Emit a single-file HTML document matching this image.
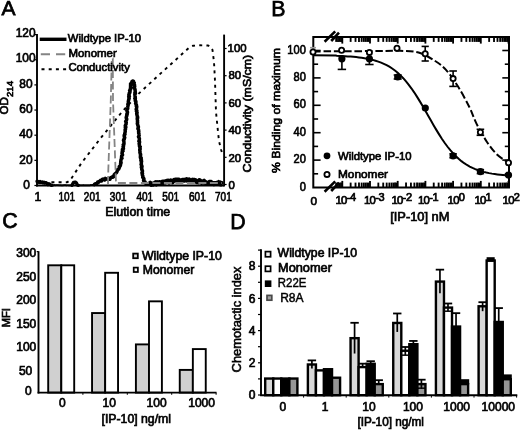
<!DOCTYPE html>
<html><head><meta charset="utf-8"><title>Figure</title>
<style>html,body{margin:0;padding:0;background:#fff;}svg{display:block;will-change:transform;}text{font-family:"Liberation Sans",sans-serif;fill:#000;}</style>
</head><body>
<svg width="520" height="431" viewBox="0 0 520 431">
<defs><filter id="soft" x="0" y="0" width="520" height="431" filterUnits="userSpaceOnUse"><feGaussianBlur stdDeviation="0.38"/></filter></defs>
<rect x="0" y="0" width="520" height="431" fill="#fff"/>
<g filter="url(#soft)">
<text x="1.5" y="15.2" font-size="21" text-anchor="start" stroke="#000" stroke-width="0.75" >A</text>
<text x="271.3" y="16" font-size="21.3" text-anchor="start" stroke="#000" stroke-width="0.75" >B</text>
<text x="2.3" y="227.9" font-size="21.3" text-anchor="start" stroke="#000" stroke-width="0.75" >C</text>
<text x="230.3" y="228.7" font-size="21.3" text-anchor="start" stroke="#000" stroke-width="0.75" >D</text>
<g id="panelA">
<polyline points="37.00,182.30 67.00,182.30 70.00,180.50 81.50,163.00 100.00,139.00 122.30,111.50 138.50,93.80 158.50,75.40 175.00,60.50 189.00,47.70 193.00,45.80 200.00,45.30 208.00,45.50 211.00,47.00 212.50,50.00 214.00,62.00 215.00,81.00 216.00,112.00 217.50,127.00 219.00,141.00 221.00,149.50 222.60,154.50" fill="none" stroke="#000" stroke-width="1.9" stroke-dasharray="3 4.2"/>
<polyline points="37.00,181.48 38.00,181.30 39.00,182.34 40.00,181.43 40.80,182.42 41.60,182.28 42.40,181.88 43.20,182.85 44.00,182.17 44.80,183.12 45.60,182.71 46.40,182.98 47.20,183.82 48.00,184.79 48.80,183.72 49.60,184.10 50.40,184.88 51.20,185.27 52.00,185.25" fill="none" stroke="#000" stroke-width="3.3" stroke-linejoin="round" stroke-linecap="round"/>
<polyline points="51.20,185.27 52.00,185.25 52.80,185.15 53.60,185.40 54.40,184.95 55.20,185.40 56.00,185.11 56.80,185.03 57.60,185.03 58.40,185.15 59.20,185.40 60.00,185.09 60.80,185.34 61.60,185.38 62.40,185.23 63.20,185.34 64.00,185.06 64.80,185.06 65.60,185.16 66.40,185.40 67.20,185.31 68.00,185.25 68.80,185.40 69.60,185.35 70.40,185.26 71.20,185.40 72.00,185.40 72.38,184.45" fill="none" stroke="#000" stroke-width="1.6" />
<polyline points="72.00,185.40 72.38,184.45 72.75,183.84 73.12,183.02 73.50,182.43 74.33,182.34 75.17,182.07 76.00,182.49 76.38,182.75 76.75,183.70 77.12,184.68 77.50,185.09 78.33,185.29" fill="none" stroke="#000" stroke-width="3.3" stroke-linejoin="round" stroke-linecap="round"/>
<polyline points="78.33,185.29 79.17,185.02 80.00,185.40 80.83,185.40 81.67,185.34 82.50,185.40 83.33,185.19 84.17,185.40 85.00,185.36 85.83,185.35 86.67,185.27 87.50,185.40 88.33,185.40 89.17,185.28 90.00,185.40 90.86,184.85 91.71,185.05 92.57,184.83 93.43,184.85" fill="none" stroke="#000" stroke-width="1.6" />
<polyline points="94.29,184.56 95.14,183.80 96.00,183.79 96.80,183.80 97.60,182.14 98.40,182.43 99.20,181.40 100.00,180.81 100.75,180.21 101.50,180.98 102.25,179.33 103.00,179.05 103.80,179.20 104.60,179.97 105.40,178.45 106.20,179.01 107.00,179.09 108.00,179.52 109.00,179.24 110.00,179.16 110.75,177.60 111.50,177.35 112.25,176.75 113.00,177.19 113.60,176.72 114.20,174.67 114.80,174.12 115.40,173.62 116.00,173.02 116.43,172.69 116.86,172.09 117.29,170.72 117.71,169.46 118.06,169.48 118.64,169.10 119.19,168.01 119.45,167.29 119.22,166.61 120.28,165.76 120.63,164.59 120.57,163.56 121.13,162.69 120.68,161.99 120.88,161.28 120.89,160.23 121.10,159.50 121.42,158.64 122.04,158.25 121.43,157.19 121.74,156.46 121.62,155.99 122.60,154.92 122.21,153.85 121.94,153.22 122.21,152.76 122.22,151.39 123.12,150.94 122.42,150.14 122.42,149.33 123.48,148.75 123.29,147.54 123.05,146.68 123.54,146.14 123.64,145.20 123.18,144.74 124.03,143.97 123.94,143.15 123.97,141.95 123.84,141.24 123.44,140.22 123.78,139.58 124.28,139.27 124.13,138.47 124.76,137.68 124.23,136.37 124.18,135.56 124.25,135.06 125.04,134.42 124.71,133.49 125.12,132.30 125.07,132.08 125.28,131.18 125.07,129.96 125.47,129.25 125.57,128.88 125.26,127.66 125.90,127.07 125.22,125.83 125.29,125.56 126.03,124.21 126.14,123.97 126.07,122.71 126.05,121.74 125.61,121.51 126.33,120.38 126.71,119.50 126.74,118.96 126.17,117.74 126.34,116.91 126.72,116.10 126.65,115.20 127.23,114.53 126.87,113.88 127.40,112.94 127.51,112.19 127.22,111.40 126.80,110.53 127.06,109.41 127.78,108.72 127.54,108.30 127.72,107.21 127.78,106.56 128.14,105.44 128.01,104.73 127.82,104.29 128.15,103.33 128.50,102.76 128.28,101.75 128.43,100.87 128.72,100.01 128.65,99.22 129.16,98.57 129.19,97.93 128.66,96.85 129.44,96.24 128.77,94.94 129.21,94.10 129.14,93.30 129.70,93.00 130.06,91.76 130.02,91.31 129.58,90.67 130.53,89.40 130.65,88.73 130.32,88.34 130.80,86.96 130.53,86.41 130.57,85.39 130.69,84.96 130.52,84.04 131.32,82.86 131.58,82.49 132.14,81.30 132.99,81.00 133.47,81.26 133.27,81.94 134.28,82.84 133.71,83.76 134.57,84.84 134.00,85.18 134.74,86.29 134.61,86.76 134.04,87.99 134.49,88.37 135.09,89.57 135.03,89.99 135.17,90.79 135.25,91.87 134.81,92.75 135.48,93.36 134.76,94.35 134.95,94.87 134.96,95.64 135.08,96.63 135.26,97.75 135.33,98.38 135.30,99.08 135.22,99.83 135.29,100.98 135.90,101.42 135.89,102.76 135.59,103.50 135.99,104.10 136.47,104.85 136.21,105.87 136.76,106.45 136.68,107.52 136.56,108.13 136.34,108.71 136.19,109.54 136.88,110.49 136.37,111.19 137.12,112.56 137.02,112.97 136.67,113.80 136.96,114.52 137.01,115.41 137.60,116.73 137.26,117.04 137.75,117.91 137.21,118.51 137.31,119.66 137.50,120.29 137.58,120.97 137.41,121.85 137.62,122.64 137.31,123.64 137.59,124.66 137.96,125.60 138.16,126.39 138.46,126.98 137.97,128.22 137.87,128.86 138.44,129.20 138.70,130.61 138.56,131.32 138.82,131.73 138.60,132.80 138.99,133.83 139.05,134.50 139.19,135.39 139.06,135.89 138.47,136.64 138.87,137.44 139.42,138.58 139.28,139.45 139.41,140.17 138.80,141.21 139.62,141.83 139.48,142.76 139.09,143.64 139.35,144.01 139.44,145.29 139.45,146.12 140.29,146.78 139.77,147.59 140.15,148.62 140.16,149.36 139.69,149.84 139.94,151.08 140.07,151.79 139.85,152.26 140.18,153.51 140.67,154.34 140.35,155.06 140.60,155.85 140.32,156.97 140.48,157.86 141.29,158.01 140.89,159.40 141.47,159.96 140.85,160.63 141.61,161.46 141.33,162.25 141.36,163.65 141.05,164.39 141.51,165.27 141.79,165.65 142.06,166.66 141.27,167.15 141.83,168.30 141.72,168.92 141.84,169.87 142.42,170.48 142.42,171.90 141.87,172.80 142.55,173.61 142.21,174.08 142.39,175.35 142.80,175.76 142.86,176.56 142.69,177.29 143.69,178.28 144.01,179.11 143.55,180.15 143.69,180.91 145.12,182.00 145.33,183.03 146.00,183.44 146.86,183.96 147.71,184.02 148.57,183.33 149.43,183.65 150.29,182.46 151.14,183.70 152.00,183.21 152.86,183.61 153.71,183.27 154.57,182.49 155.43,181.92 156.29,183.35 157.14,181.77 158.00,182.25 158.88,181.89 159.75,181.69 160.62,182.36 161.50,182.66 162.38,181.24 163.25,181.83 164.12,181.07 165.00,181.40 165.83,181.00 166.67,180.48 167.50,180.37 168.33,180.34 169.17,181.49 170.00,180.64 170.83,180.04 171.67,181.16 172.50,181.22 173.33,180.13 174.17,179.46 175.00,179.45 175.83,179.22 176.67,179.63 177.50,179.14 178.33,179.36 179.17,179.36 180.00,179.88 180.83,180.41 181.67,180.12 182.50,179.47 183.33,179.43 184.17,179.59 185.00,179.28 185.83,179.25 186.67,178.80 187.50,179.22 188.33,180.51 189.17,179.03 190.00,179.76 190.83,180.02 191.67,180.49 192.50,179.36 193.33,179.50 194.17,179.51 195.00,179.82 195.83,180.03 196.67,181.07 197.50,181.00 198.33,181.17 199.17,179.76 200.00,179.91 200.83,181.25 201.67,181.71 202.50,181.08 203.33,181.41 204.17,180.48 205.00,181.30 205.88,182.37 206.75,182.29 207.62,182.44 208.50,182.75 209.38,181.55 210.25,181.40 211.12,181.58 212.00,182.34 212.83,182.65 213.67,183.14 214.50,182.77 215.33,182.67 216.17,182.90 217.00,182.37 217.83,182.57 218.67,181.67 219.50,183.03 220.33,182.07 221.17,183.33 222.00,182.86" fill="none" stroke="#000" stroke-width="3.5" stroke-linejoin="round" stroke-linecap="round"/>
<polyline points="150.29,183.66 151.14,184.90 152.00,184.41 152.86,184.81 153.71,184.47 154.57,183.69 155.43,183.12 156.29,184.55 157.14,182.97 158.00,183.45 158.88,183.09 159.75,182.89 160.62,183.56 161.50,183.86 162.38,182.44 163.25,183.03 164.12,182.27 165.00,182.60 165.83,182.20 166.67,181.68 167.50,181.57 168.33,181.54 169.17,182.69 170.00,181.84 170.83,181.24 171.67,182.36 172.50,182.42 173.33,181.33 174.17,180.66 175.00,180.65 175.83,180.42 176.67,180.83 177.50,180.34 178.33,180.56 179.17,180.56 180.00,181.08 180.83,181.61 181.67,181.32 182.50,180.67 183.33,180.63 184.17,180.79 185.00,180.48 185.83,180.45 186.67,180.00 187.50,180.42 188.33,181.71 189.17,180.23 190.00,180.96 190.83,181.22 191.67,181.69 192.50,180.56 193.33,180.70 194.17,180.71 195.00,181.02 195.83,181.23 196.67,182.27 197.50,182.20 198.33,182.37 199.17,180.96 200.00,181.11 200.83,182.45 201.67,182.91 202.50,182.28 203.33,182.61 204.17,181.68 205.00,182.50 205.88,183.57 206.75,183.49 207.62,183.64 208.50,183.95 209.38,182.75 210.25,182.60 211.12,182.78 212.00,183.54 212.83,183.85 213.67,184.34 214.50,183.97 215.33,183.87 216.17,184.10 217.00,183.57 217.83,183.77 218.67,182.87 219.50,184.23 220.33,183.27 221.17,184.53 222.00,184.06" fill="none" stroke="#000" stroke-width="4.0" stroke-linejoin="round"/>
<polyline points="108.00,184.00 108.30,170.00 110.80,100.00 111.80,58.50 112.80,58.50 113.00,100.00 115.40,166.00 116.00,183.00 222.00,183.00" fill="none" stroke="#848484" stroke-width="1.8" stroke-dasharray="8 3.5"/>
<line x1="37.00" y1="34.00" x2="37.00" y2="186.40" stroke="#000" stroke-width="1.9" />
<line x1="224.10" y1="34.60" x2="224.10" y2="186.40" stroke="#000" stroke-width="1.9" />
<line x1="36.10" y1="185.50" x2="224.30" y2="185.50" stroke="#000" stroke-width="1.9" />
<line x1="34.40" y1="185.50" x2="37.00" y2="185.50" stroke="#000" stroke-width="1.2" />
<text x="26.6" y="188.8" font-size="11.9" text-anchor="middle" stroke="#000" stroke-width="0.68" >0</text>
<line x1="34.40" y1="160.35" x2="37.00" y2="160.35" stroke="#000" stroke-width="1.2" />
<text x="25.9" y="163.5" font-size="11.9" text-anchor="middle" stroke="#000" stroke-width="0.68" >20</text>
<line x1="34.40" y1="135.20" x2="37.00" y2="135.20" stroke="#000" stroke-width="1.2" />
<text x="25.9" y="138.20000000000002" font-size="11.9" text-anchor="middle" stroke="#000" stroke-width="0.68" >40</text>
<line x1="34.40" y1="110.05" x2="37.00" y2="110.05" stroke="#000" stroke-width="1.2" />
<text x="25.9" y="112.9" font-size="11.9" text-anchor="middle" stroke="#000" stroke-width="0.68" >60</text>
<line x1="34.40" y1="84.90" x2="37.00" y2="84.90" stroke="#000" stroke-width="1.2" />
<text x="25.9" y="87.60000000000001" font-size="11.9" text-anchor="middle" stroke="#000" stroke-width="0.68" >80</text>
<line x1="34.40" y1="59.75" x2="37.00" y2="59.75" stroke="#000" stroke-width="1.2" />
<text x="25.6" y="62.30000000000001" font-size="11.9" text-anchor="middle" stroke="#000" stroke-width="0.68" >100</text>
<line x1="34.40" y1="34.60" x2="37.00" y2="34.60" stroke="#000" stroke-width="1.2" />
<text x="25.6" y="37.0" font-size="11.9" text-anchor="middle" stroke="#000" stroke-width="0.68" >120</text>
<line x1="224.10" y1="184.50" x2="226.60" y2="184.50" stroke="#000" stroke-width="1.2" />
<text x="228.4" y="188.7" font-size="11.4" text-anchor="start" stroke="#000" stroke-width="0.68" >0</text>
<line x1="224.10" y1="157.30" x2="226.60" y2="157.30" stroke="#000" stroke-width="1.2" />
<text x="228.4" y="161.5" font-size="11.4" text-anchor="start" stroke="#000" stroke-width="0.68" >20</text>
<line x1="224.10" y1="130.10" x2="226.60" y2="130.10" stroke="#000" stroke-width="1.2" />
<text x="228.4" y="134.29999999999998" font-size="11.4" text-anchor="start" stroke="#000" stroke-width="0.68" >40</text>
<line x1="224.10" y1="102.90" x2="226.60" y2="102.90" stroke="#000" stroke-width="1.2" />
<text x="228.4" y="106.5" font-size="11.4" text-anchor="start" stroke="#000" stroke-width="0.68" >60</text>
<line x1="224.10" y1="75.70" x2="226.60" y2="75.70" stroke="#000" stroke-width="1.2" />
<text x="228.4" y="79.3" font-size="11.4" text-anchor="start" stroke="#000" stroke-width="0.68" >80</text>
<line x1="224.10" y1="48.50" x2="226.60" y2="48.50" stroke="#000" stroke-width="1.2" />
<text x="227.6" y="52.1" font-size="11.4" text-anchor="start" stroke="#000" stroke-width="0.68" >100</text>
<text x="37.8" y="200.9" font-size="12.2" text-anchor="middle" stroke="#000" stroke-width="0.68" >1</text>
<text x="66.8" y="200.9" font-size="12.2" text-anchor="middle" stroke="#000" stroke-width="0.68"  textLength="16.7" lengthAdjust="spacingAndGlyphs">101</text>
<text x="92.2" y="200.9" font-size="12.2" text-anchor="middle" stroke="#000" stroke-width="0.68"  textLength="16.7" lengthAdjust="spacingAndGlyphs">201</text>
<text x="118.2" y="200.9" font-size="12.2" text-anchor="middle" stroke="#000" stroke-width="0.68"  textLength="16.7" lengthAdjust="spacingAndGlyphs">301</text>
<text x="144.8" y="200.9" font-size="12.2" text-anchor="middle" stroke="#000" stroke-width="0.68"  textLength="16.7" lengthAdjust="spacingAndGlyphs">401</text>
<text x="170.7" y="200.9" font-size="12.2" text-anchor="middle" stroke="#000" stroke-width="0.68"  textLength="16.7" lengthAdjust="spacingAndGlyphs">501</text>
<text x="197.4" y="200.9" font-size="12.2" text-anchor="middle" stroke="#000" stroke-width="0.68"  textLength="16.7" lengthAdjust="spacingAndGlyphs">601</text>
<text x="223.4" y="200.9" font-size="12.2" text-anchor="middle" stroke="#000" stroke-width="0.68"  textLength="16.7" lengthAdjust="spacingAndGlyphs">701</text>
<text x="105.2" y="215.7" font-size="12.3" text-anchor="start" stroke="#000" stroke-width="0.68"  textLength="65" lengthAdjust="spacingAndGlyphs">Elution time</text>
<text transform="translate(8.0,114.4) rotate(-90)" font-size="11.6" stroke="#000" stroke-width="0.68">OD<tspan font-size="9.6" dy="5">214</tspan></text>
<text transform="translate(251.4,172.4) rotate(-90)" font-size="11.4" text-anchor="start" stroke="#000" stroke-width="0.68" textLength="117.6" lengthAdjust="spacingAndGlyphs">Conductivity (mS/cm)</text>
<line x1="39.70" y1="39.30" x2="66.50" y2="39.30" stroke="#000" stroke-width="3.4" />
<line x1="40.80" y1="54.30" x2="66.00" y2="54.30" stroke="#848484" stroke-width="2.0" stroke-dasharray="9.2 6"/>
<line x1="41.50" y1="69.20" x2="66.50" y2="69.20" stroke="#000" stroke-width="1.9" stroke-dasharray="3 4.2"/>
<text x="67.8" y="42" font-size="11.3" text-anchor="start" stroke="#000" stroke-width="0.68"  textLength="73.2" lengthAdjust="spacingAndGlyphs">Wildtype IP-10</text>
<text x="68.4" y="56.8" font-size="11.3" text-anchor="start" stroke="#000" stroke-width="0.68"  textLength="48.4" lengthAdjust="spacingAndGlyphs">Monomer</text>
<text x="68.4" y="71.4" font-size="11.3" text-anchor="start" stroke="#000" stroke-width="0.68"  textLength="61.4" lengthAdjust="spacingAndGlyphs">Conductivity</text>
</g>
<g id="panelB">
<polyline points="313.30,55.29 336.00,55.57 336.76,55.88 339.53,55.98 342.30,56.10 345.07,56.24 347.84,56.41 350.61,56.60 353.38,56.83 356.15,57.09 358.92,57.40 361.69,57.76 364.46,58.18 367.23,58.67 370.00,59.25 372.77,59.91 375.54,60.68 378.31,61.57 381.08,62.61 383.85,63.80 386.62,65.16 389.39,66.72 392.16,68.50 394.93,70.53 397.70,72.80 400.47,75.36 403.24,78.21 406.01,81.35 408.78,84.80 411.55,88.55 414.32,92.57 417.09,96.86 419.86,101.36 422.63,106.05 425.40,110.86 428.17,115.73 430.94,120.61 433.71,125.42 436.48,130.12 439.25,134.64 442.02,138.95 444.79,142.99 447.56,146.76 450.33,150.23 453.10,153.40 455.87,156.27 458.64,158.85 461.41,161.15 464.18,163.19 466.95,164.98 469.72,166.56 472.49,167.94 475.26,169.14 478.03,170.19 480.80,171.09 483.57,171.87 486.34,172.54 489.11,173.12 491.88,173.62 494.65,174.04 497.42,174.41 500.19,174.72 502.96,174.99 505.73,175.22 508.50,175.41" fill="none" stroke="#000" stroke-width="2.0" />
<path d="M313.30,51.40 C317.75,51.38 328.88,51.37 340.00,51.30 C351.12,51.23 370.00,51.08 380.00,51.00 C390.00,50.92 393.58,50.55 400.00,50.80 C406.42,51.05 412.73,50.87 418.50,52.50 C424.27,54.13 430.02,57.72 434.60,60.60 C439.18,63.48 442.15,65.57 446.00,69.80 C449.85,74.03 453.83,79.83 457.70,86.00 C461.57,92.17 466.05,100.48 469.20,106.80 C472.35,113.12 473.67,118.08 476.60,123.90 C479.53,129.72 483.40,136.60 486.80,141.70 C490.20,146.80 493.38,151.00 497.00,154.50 C500.62,158.00 506.58,161.33 508.50,162.70" fill="none" stroke="#000" stroke-width="2.0" stroke-dasharray="7.5 2.8"/>
<rect x="313.3" y="37" width="195.7" height="150.5" fill="none" stroke="#000" stroke-width="2.0"/>
<line x1="313.30" y1="173.80" x2="318.10" y2="173.80" stroke="#000" stroke-width="1.6" />
<line x1="509.00" y1="173.80" x2="504.80" y2="173.80" stroke="#000" stroke-width="1.6" />
<line x1="313.30" y1="160.10" x2="320.60" y2="160.10" stroke="#000" stroke-width="1.6" />
<line x1="509.00" y1="160.10" x2="502.30" y2="160.10" stroke="#000" stroke-width="1.6" />
<line x1="313.30" y1="146.40" x2="318.10" y2="146.40" stroke="#000" stroke-width="1.6" />
<line x1="509.00" y1="146.40" x2="504.80" y2="146.40" stroke="#000" stroke-width="1.6" />
<line x1="313.30" y1="132.70" x2="320.60" y2="132.70" stroke="#000" stroke-width="1.6" />
<line x1="509.00" y1="132.70" x2="502.30" y2="132.70" stroke="#000" stroke-width="1.6" />
<line x1="313.30" y1="119.00" x2="318.10" y2="119.00" stroke="#000" stroke-width="1.6" />
<line x1="509.00" y1="119.00" x2="504.80" y2="119.00" stroke="#000" stroke-width="1.6" />
<line x1="313.30" y1="105.30" x2="320.60" y2="105.30" stroke="#000" stroke-width="1.6" />
<line x1="509.00" y1="105.30" x2="502.30" y2="105.30" stroke="#000" stroke-width="1.6" />
<line x1="313.30" y1="91.60" x2="318.10" y2="91.60" stroke="#000" stroke-width="1.6" />
<line x1="509.00" y1="91.60" x2="504.80" y2="91.60" stroke="#000" stroke-width="1.6" />
<line x1="313.30" y1="77.90" x2="320.60" y2="77.90" stroke="#000" stroke-width="1.6" />
<line x1="509.00" y1="77.90" x2="502.30" y2="77.90" stroke="#000" stroke-width="1.6" />
<line x1="313.30" y1="64.20" x2="318.10" y2="64.20" stroke="#000" stroke-width="1.6" />
<line x1="509.00" y1="64.20" x2="504.80" y2="64.20" stroke="#000" stroke-width="1.6" />
<line x1="313.30" y1="50.50" x2="320.60" y2="50.50" stroke="#000" stroke-width="1.6" />
<line x1="509.00" y1="50.50" x2="502.30" y2="50.50" stroke="#000" stroke-width="1.6" />
<text x="305.8" y="190.9" font-size="12.3" text-anchor="end" stroke="#000" stroke-width="0.68"  textLength="6.16" lengthAdjust="spacingAndGlyphs">0</text>
<text x="305.8" y="163.1" font-size="12.3" text-anchor="end" stroke="#000" stroke-width="0.68"  textLength="12.31" lengthAdjust="spacingAndGlyphs">20</text>
<text x="305.8" y="135.7" font-size="12.3" text-anchor="end" stroke="#000" stroke-width="0.68"  textLength="12.31" lengthAdjust="spacingAndGlyphs">40</text>
<text x="305.8" y="108.3" font-size="12.3" text-anchor="end" stroke="#000" stroke-width="0.68"  textLength="12.31" lengthAdjust="spacingAndGlyphs">60</text>
<text x="305.8" y="80.89999999999999" font-size="12.3" text-anchor="end" stroke="#000" stroke-width="0.68"  textLength="12.31" lengthAdjust="spacingAndGlyphs">80</text>
<text x="305.8" y="53.5" font-size="12.3" text-anchor="end" stroke="#000" stroke-width="0.68"  textLength="18.47" lengthAdjust="spacingAndGlyphs">100</text>
<line x1="336.15" y1="37.00" x2="336.15" y2="41.90" stroke="#000" stroke-width="1.85" />
<line x1="336.15" y1="187.50" x2="336.15" y2="182.60" stroke="#000" stroke-width="1.85" />
<line x1="338.01" y1="37.00" x2="338.01" y2="41.90" stroke="#000" stroke-width="1.85" />
<line x1="338.01" y1="187.50" x2="338.01" y2="182.60" stroke="#000" stroke-width="1.85" />
<line x1="339.62" y1="37.00" x2="339.62" y2="41.90" stroke="#000" stroke-width="1.85" />
<line x1="339.62" y1="187.50" x2="339.62" y2="182.60" stroke="#000" stroke-width="1.85" />
<line x1="341.03" y1="37.00" x2="341.03" y2="41.90" stroke="#000" stroke-width="1.85" />
<line x1="341.03" y1="187.50" x2="341.03" y2="182.60" stroke="#000" stroke-width="1.85" />
<line x1="342.30" y1="37.00" x2="342.30" y2="43.60" stroke="#000" stroke-width="1.85" />
<line x1="342.30" y1="187.50" x2="342.30" y2="180.90" stroke="#000" stroke-width="1.85" />
<line x1="350.64" y1="37.00" x2="350.64" y2="41.90" stroke="#000" stroke-width="1.85" />
<line x1="350.64" y1="187.50" x2="350.64" y2="182.60" stroke="#000" stroke-width="1.85" />
<line x1="355.52" y1="37.00" x2="355.52" y2="41.90" stroke="#000" stroke-width="1.85" />
<line x1="355.52" y1="187.50" x2="355.52" y2="182.60" stroke="#000" stroke-width="1.85" />
<line x1="358.98" y1="37.00" x2="358.98" y2="41.90" stroke="#000" stroke-width="1.85" />
<line x1="358.98" y1="187.50" x2="358.98" y2="182.60" stroke="#000" stroke-width="1.85" />
<line x1="361.66" y1="37.00" x2="361.66" y2="41.90" stroke="#000" stroke-width="1.85" />
<line x1="361.66" y1="187.50" x2="361.66" y2="182.60" stroke="#000" stroke-width="1.85" />
<line x1="363.85" y1="37.00" x2="363.85" y2="41.90" stroke="#000" stroke-width="1.85" />
<line x1="363.85" y1="187.50" x2="363.85" y2="182.60" stroke="#000" stroke-width="1.85" />
<line x1="365.71" y1="37.00" x2="365.71" y2="41.90" stroke="#000" stroke-width="1.85" />
<line x1="365.71" y1="187.50" x2="365.71" y2="182.60" stroke="#000" stroke-width="1.85" />
<line x1="367.32" y1="37.00" x2="367.32" y2="41.90" stroke="#000" stroke-width="1.85" />
<line x1="367.32" y1="187.50" x2="367.32" y2="182.60" stroke="#000" stroke-width="1.85" />
<line x1="368.73" y1="37.00" x2="368.73" y2="41.90" stroke="#000" stroke-width="1.85" />
<line x1="368.73" y1="187.50" x2="368.73" y2="182.60" stroke="#000" stroke-width="1.85" />
<line x1="370.00" y1="37.00" x2="370.00" y2="43.60" stroke="#000" stroke-width="1.85" />
<line x1="370.00" y1="187.50" x2="370.00" y2="180.90" stroke="#000" stroke-width="1.85" />
<line x1="378.34" y1="37.00" x2="378.34" y2="41.90" stroke="#000" stroke-width="1.85" />
<line x1="378.34" y1="187.50" x2="378.34" y2="182.60" stroke="#000" stroke-width="1.85" />
<line x1="383.22" y1="37.00" x2="383.22" y2="41.90" stroke="#000" stroke-width="1.85" />
<line x1="383.22" y1="187.50" x2="383.22" y2="182.60" stroke="#000" stroke-width="1.85" />
<line x1="386.68" y1="37.00" x2="386.68" y2="41.90" stroke="#000" stroke-width="1.85" />
<line x1="386.68" y1="187.50" x2="386.68" y2="182.60" stroke="#000" stroke-width="1.85" />
<line x1="389.36" y1="37.00" x2="389.36" y2="41.90" stroke="#000" stroke-width="1.85" />
<line x1="389.36" y1="187.50" x2="389.36" y2="182.60" stroke="#000" stroke-width="1.85" />
<line x1="391.55" y1="37.00" x2="391.55" y2="41.90" stroke="#000" stroke-width="1.85" />
<line x1="391.55" y1="187.50" x2="391.55" y2="182.60" stroke="#000" stroke-width="1.85" />
<line x1="393.41" y1="37.00" x2="393.41" y2="41.90" stroke="#000" stroke-width="1.85" />
<line x1="393.41" y1="187.50" x2="393.41" y2="182.60" stroke="#000" stroke-width="1.85" />
<line x1="395.02" y1="37.00" x2="395.02" y2="41.90" stroke="#000" stroke-width="1.85" />
<line x1="395.02" y1="187.50" x2="395.02" y2="182.60" stroke="#000" stroke-width="1.85" />
<line x1="396.43" y1="37.00" x2="396.43" y2="41.90" stroke="#000" stroke-width="1.85" />
<line x1="396.43" y1="187.50" x2="396.43" y2="182.60" stroke="#000" stroke-width="1.85" />
<line x1="397.70" y1="37.00" x2="397.70" y2="43.60" stroke="#000" stroke-width="1.85" />
<line x1="397.70" y1="187.50" x2="397.70" y2="180.90" stroke="#000" stroke-width="1.85" />
<line x1="406.04" y1="37.00" x2="406.04" y2="41.90" stroke="#000" stroke-width="1.85" />
<line x1="406.04" y1="187.50" x2="406.04" y2="182.60" stroke="#000" stroke-width="1.85" />
<line x1="410.92" y1="37.00" x2="410.92" y2="41.90" stroke="#000" stroke-width="1.85" />
<line x1="410.92" y1="187.50" x2="410.92" y2="182.60" stroke="#000" stroke-width="1.85" />
<line x1="414.38" y1="37.00" x2="414.38" y2="41.90" stroke="#000" stroke-width="1.85" />
<line x1="414.38" y1="187.50" x2="414.38" y2="182.60" stroke="#000" stroke-width="1.85" />
<line x1="417.06" y1="37.00" x2="417.06" y2="41.90" stroke="#000" stroke-width="1.85" />
<line x1="417.06" y1="187.50" x2="417.06" y2="182.60" stroke="#000" stroke-width="1.85" />
<line x1="419.25" y1="37.00" x2="419.25" y2="41.90" stroke="#000" stroke-width="1.85" />
<line x1="419.25" y1="187.50" x2="419.25" y2="182.60" stroke="#000" stroke-width="1.85" />
<line x1="421.11" y1="37.00" x2="421.11" y2="41.90" stroke="#000" stroke-width="1.85" />
<line x1="421.11" y1="187.50" x2="421.11" y2="182.60" stroke="#000" stroke-width="1.85" />
<line x1="422.72" y1="37.00" x2="422.72" y2="41.90" stroke="#000" stroke-width="1.85" />
<line x1="422.72" y1="187.50" x2="422.72" y2="182.60" stroke="#000" stroke-width="1.85" />
<line x1="424.13" y1="37.00" x2="424.13" y2="41.90" stroke="#000" stroke-width="1.85" />
<line x1="424.13" y1="187.50" x2="424.13" y2="182.60" stroke="#000" stroke-width="1.85" />
<line x1="425.40" y1="37.00" x2="425.40" y2="43.60" stroke="#000" stroke-width="1.85" />
<line x1="425.40" y1="187.50" x2="425.40" y2="180.90" stroke="#000" stroke-width="1.85" />
<line x1="433.74" y1="37.00" x2="433.74" y2="41.90" stroke="#000" stroke-width="1.85" />
<line x1="433.74" y1="187.50" x2="433.74" y2="182.60" stroke="#000" stroke-width="1.85" />
<line x1="438.62" y1="37.00" x2="438.62" y2="41.90" stroke="#000" stroke-width="1.85" />
<line x1="438.62" y1="187.50" x2="438.62" y2="182.60" stroke="#000" stroke-width="1.85" />
<line x1="442.08" y1="37.00" x2="442.08" y2="41.90" stroke="#000" stroke-width="1.85" />
<line x1="442.08" y1="187.50" x2="442.08" y2="182.60" stroke="#000" stroke-width="1.85" />
<line x1="444.76" y1="37.00" x2="444.76" y2="41.90" stroke="#000" stroke-width="1.85" />
<line x1="444.76" y1="187.50" x2="444.76" y2="182.60" stroke="#000" stroke-width="1.85" />
<line x1="446.95" y1="37.00" x2="446.95" y2="41.90" stroke="#000" stroke-width="1.85" />
<line x1="446.95" y1="187.50" x2="446.95" y2="182.60" stroke="#000" stroke-width="1.85" />
<line x1="448.81" y1="37.00" x2="448.81" y2="41.90" stroke="#000" stroke-width="1.85" />
<line x1="448.81" y1="187.50" x2="448.81" y2="182.60" stroke="#000" stroke-width="1.85" />
<line x1="450.42" y1="37.00" x2="450.42" y2="41.90" stroke="#000" stroke-width="1.85" />
<line x1="450.42" y1="187.50" x2="450.42" y2="182.60" stroke="#000" stroke-width="1.85" />
<line x1="451.83" y1="37.00" x2="451.83" y2="41.90" stroke="#000" stroke-width="1.85" />
<line x1="451.83" y1="187.50" x2="451.83" y2="182.60" stroke="#000" stroke-width="1.85" />
<line x1="453.10" y1="37.00" x2="453.10" y2="43.60" stroke="#000" stroke-width="1.85" />
<line x1="453.10" y1="187.50" x2="453.10" y2="180.90" stroke="#000" stroke-width="1.85" />
<line x1="461.44" y1="37.00" x2="461.44" y2="41.90" stroke="#000" stroke-width="1.85" />
<line x1="461.44" y1="187.50" x2="461.44" y2="182.60" stroke="#000" stroke-width="1.85" />
<line x1="466.32" y1="37.00" x2="466.32" y2="41.90" stroke="#000" stroke-width="1.85" />
<line x1="466.32" y1="187.50" x2="466.32" y2="182.60" stroke="#000" stroke-width="1.85" />
<line x1="469.78" y1="37.00" x2="469.78" y2="41.90" stroke="#000" stroke-width="1.85" />
<line x1="469.78" y1="187.50" x2="469.78" y2="182.60" stroke="#000" stroke-width="1.85" />
<line x1="472.46" y1="37.00" x2="472.46" y2="41.90" stroke="#000" stroke-width="1.85" />
<line x1="472.46" y1="187.50" x2="472.46" y2="182.60" stroke="#000" stroke-width="1.85" />
<line x1="474.65" y1="37.00" x2="474.65" y2="41.90" stroke="#000" stroke-width="1.85" />
<line x1="474.65" y1="187.50" x2="474.65" y2="182.60" stroke="#000" stroke-width="1.85" />
<line x1="476.51" y1="37.00" x2="476.51" y2="41.90" stroke="#000" stroke-width="1.85" />
<line x1="476.51" y1="187.50" x2="476.51" y2="182.60" stroke="#000" stroke-width="1.85" />
<line x1="478.12" y1="37.00" x2="478.12" y2="41.90" stroke="#000" stroke-width="1.85" />
<line x1="478.12" y1="187.50" x2="478.12" y2="182.60" stroke="#000" stroke-width="1.85" />
<line x1="479.53" y1="37.00" x2="479.53" y2="41.90" stroke="#000" stroke-width="1.85" />
<line x1="479.53" y1="187.50" x2="479.53" y2="182.60" stroke="#000" stroke-width="1.85" />
<line x1="480.80" y1="37.00" x2="480.80" y2="43.60" stroke="#000" stroke-width="1.85" />
<line x1="480.80" y1="187.50" x2="480.80" y2="180.90" stroke="#000" stroke-width="1.85" />
<line x1="489.14" y1="37.00" x2="489.14" y2="41.90" stroke="#000" stroke-width="1.85" />
<line x1="489.14" y1="187.50" x2="489.14" y2="182.60" stroke="#000" stroke-width="1.85" />
<line x1="494.02" y1="37.00" x2="494.02" y2="41.90" stroke="#000" stroke-width="1.85" />
<line x1="494.02" y1="187.50" x2="494.02" y2="182.60" stroke="#000" stroke-width="1.85" />
<line x1="497.48" y1="37.00" x2="497.48" y2="41.90" stroke="#000" stroke-width="1.85" />
<line x1="497.48" y1="187.50" x2="497.48" y2="182.60" stroke="#000" stroke-width="1.85" />
<line x1="500.16" y1="37.00" x2="500.16" y2="41.90" stroke="#000" stroke-width="1.85" />
<line x1="500.16" y1="187.50" x2="500.16" y2="182.60" stroke="#000" stroke-width="1.85" />
<line x1="502.35" y1="37.00" x2="502.35" y2="41.90" stroke="#000" stroke-width="1.85" />
<line x1="502.35" y1="187.50" x2="502.35" y2="182.60" stroke="#000" stroke-width="1.85" />
<line x1="504.21" y1="37.00" x2="504.21" y2="41.90" stroke="#000" stroke-width="1.85" />
<line x1="504.21" y1="187.50" x2="504.21" y2="182.60" stroke="#000" stroke-width="1.85" />
<line x1="505.82" y1="37.00" x2="505.82" y2="41.90" stroke="#000" stroke-width="1.85" />
<line x1="505.82" y1="187.50" x2="505.82" y2="182.60" stroke="#000" stroke-width="1.85" />
<line x1="507.23" y1="37.00" x2="507.23" y2="41.90" stroke="#000" stroke-width="1.85" />
<line x1="507.23" y1="187.50" x2="507.23" y2="182.60" stroke="#000" stroke-width="1.85" />
<line x1="508.50" y1="37.00" x2="508.50" y2="43.60" stroke="#000" stroke-width="1.85" />
<line x1="508.50" y1="187.50" x2="508.50" y2="180.90" stroke="#000" stroke-width="1.85" />
<line x1="324.60" y1="41.80" x2="335.20" y2="31.40" stroke="#000" stroke-width="2.6" />
<line x1="331.20" y1="41.00" x2="339.00" y2="32.60" stroke="#000" stroke-width="2.6" />
<line x1="324.60" y1="191.80" x2="335.20" y2="181.40" stroke="#000" stroke-width="2.6" />
<line x1="331.20" y1="191.00" x2="339.00" y2="182.60" stroke="#000" stroke-width="2.6" />
<line x1="341.90" y1="58.80" x2="341.90" y2="69.40" stroke="#000" stroke-width="1.6" />
<line x1="337.70" y1="69.40" x2="346.10" y2="69.40" stroke="#000" stroke-width="1.6" />
<line x1="369.40" y1="58.80" x2="369.40" y2="64.50" stroke="#000" stroke-width="1.6" />
<line x1="365.20" y1="64.50" x2="373.60" y2="64.50" stroke="#000" stroke-width="1.6" />
<line x1="397.70" y1="75.00" x2="397.70" y2="79.00" stroke="#000" stroke-width="1.6" />
<line x1="393.70" y1="75.00" x2="401.70" y2="75.00" stroke="#000" stroke-width="1.6" />
<line x1="393.70" y1="79.00" x2="401.70" y2="79.00" stroke="#000" stroke-width="1.6" />
<line x1="453.10" y1="153.80" x2="453.10" y2="157.80" stroke="#000" stroke-width="1.6" />
<line x1="449.40" y1="153.80" x2="456.80" y2="153.80" stroke="#000" stroke-width="1.6" />
<line x1="449.40" y1="157.80" x2="456.80" y2="157.80" stroke="#000" stroke-width="1.6" />
<line x1="480.40" y1="169.60" x2="480.40" y2="173.60" stroke="#000" stroke-width="1.6" />
<line x1="476.70" y1="169.60" x2="484.10" y2="169.60" stroke="#000" stroke-width="1.6" />
<line x1="476.70" y1="173.60" x2="484.10" y2="173.60" stroke="#000" stroke-width="1.6" />
<circle cx="341.9" cy="58.8" r="3.6" fill="#000"/>
<circle cx="369.4" cy="58.8" r="3.6" fill="#000"/>
<circle cx="397.7" cy="77" r="3.6" fill="#000"/>
<circle cx="425.3" cy="108" r="3.6" fill="#000"/>
<circle cx="453.1" cy="155.8" r="3.6" fill="#000"/>
<circle cx="480.4" cy="171.6" r="3.6" fill="#000"/>
<circle cx="508.5" cy="175" r="3.6" fill="#000"/>
<line x1="313.00" y1="47.70" x2="313.00" y2="52.00" stroke="#999" stroke-width="1.6" />
<line x1="310.00" y1="47.70" x2="316.00" y2="47.70" stroke="#999" stroke-width="1.6" />
<line x1="425.20" y1="46.40" x2="425.20" y2="61.00" stroke="#000" stroke-width="1.6" />
<line x1="421.60" y1="46.40" x2="428.80" y2="46.40" stroke="#000" stroke-width="1.6" />
<line x1="421.60" y1="61.00" x2="428.80" y2="61.00" stroke="#000" stroke-width="1.6" />
<line x1="453.10" y1="71.00" x2="453.10" y2="86.40" stroke="#000" stroke-width="1.6" />
<line x1="449.30" y1="71.00" x2="456.90" y2="71.00" stroke="#000" stroke-width="1.6" />
<line x1="449.30" y1="86.40" x2="456.90" y2="86.40" stroke="#000" stroke-width="1.6" />
<line x1="480.40" y1="129.30" x2="480.40" y2="135.30" stroke="#000" stroke-width="1.6" />
<line x1="476.60" y1="129.30" x2="484.20" y2="129.30" stroke="#000" stroke-width="1.6" />
<line x1="476.60" y1="135.30" x2="484.20" y2="135.30" stroke="#000" stroke-width="1.6" />
<circle cx="313.0" cy="52" r="2.6" fill="#fff" stroke="#000" stroke-width="1.8"/>
<circle cx="341.6" cy="50.3" r="2.6" fill="#fff" stroke="#000" stroke-width="1.8"/>
<circle cx="369.4" cy="52.4" r="2.6" fill="#fff" stroke="#000" stroke-width="1.8"/>
<circle cx="397.0" cy="48.2" r="2.6" fill="#fff" stroke="#000" stroke-width="1.8"/>
<circle cx="425.2" cy="53.7" r="2.6" fill="#fff" stroke="#000" stroke-width="1.8"/>
<circle cx="453.1" cy="78.6" r="2.6" fill="#fff" stroke="#000" stroke-width="1.8"/>
<circle cx="480.4" cy="132.3" r="2.6" fill="#fff" stroke="#000" stroke-width="1.8"/>
<circle cx="508.5" cy="162.7" r="2.6" fill="#fff" stroke="#000" stroke-width="1.8"/>
<circle cx="327" cy="155.8" r="3.4" fill="#000"/>
<circle cx="327" cy="174.4" r="2.6" fill="#fff" stroke="#000" stroke-width="1.8"/>
<text x="338" y="159.6" font-size="11.3" text-anchor="start" stroke="#000" stroke-width="0.68"  textLength="73.5" lengthAdjust="spacingAndGlyphs">Wildtype IP-10</text>
<text x="338" y="177.6" font-size="11.3" text-anchor="start" stroke="#000" stroke-width="0.68"  textLength="50" lengthAdjust="spacingAndGlyphs">Monomer</text>
<text x="313.9" y="204.8" font-size="11.8" text-anchor="middle" stroke="#000" stroke-width="0.68" >0</text>
<text x="335.4" y="204.4" font-size="11.3" stroke="#000" stroke-width="0.7" letter-spacing="-0.7">10<tspan dy="-3.0" font-size="11" letter-spacing="-0.3">-4</tspan></text>
<text x="364" y="204.4" font-size="11.3" stroke="#000" stroke-width="0.7" letter-spacing="-0.7">10<tspan dy="-3.0" font-size="11" letter-spacing="-0.3">-3</tspan></text>
<text x="391.4" y="204.4" font-size="11.3" stroke="#000" stroke-width="0.7" letter-spacing="-0.7">10<tspan dy="-3.0" font-size="11" letter-spacing="-0.3">-2</tspan></text>
<text x="418" y="204.4" font-size="11.3" stroke="#000" stroke-width="0.7" letter-spacing="-0.7">10<tspan dy="-3.0" font-size="11" letter-spacing="-0.3">-1</tspan></text>
<text x="447.6" y="204.4" font-size="11.3" stroke="#000" stroke-width="0.7" letter-spacing="-0.7">10<tspan dy="-3.0" font-size="11" letter-spacing="-0.3">0</tspan></text>
<text x="474.4" y="204.4" font-size="11.3" stroke="#000" stroke-width="0.7" letter-spacing="-0.7">10<tspan dy="-3.0" font-size="11" letter-spacing="-0.3">1</tspan></text>
<text x="502.6" y="204.4" font-size="11.3" stroke="#000" stroke-width="0.7" letter-spacing="-0.7">10<tspan dy="-3.0" font-size="11" letter-spacing="-0.3">2</tspan></text>
<text x="390.2" y="220.6" font-size="12.5" text-anchor="start" stroke="#000" stroke-width="0.68"  textLength="59.3" lengthAdjust="spacingAndGlyphs">[IP-10] nM</text>
<text transform="translate(280.2,173) rotate(-90)" font-size="11.5" text-anchor="start" stroke="#000" stroke-width="0.68" textLength="125" lengthAdjust="spacingAndGlyphs">% Binding of maximum</text>
</g>
<g id="panelC">
<rect x="48.20" y="265.30" width="13.1" height="127.30" fill="#d0d0d0" stroke="#000" stroke-width="1.9"/>
<rect x="61.30" y="265.30" width="12.9" height="127.30" fill="#fff" stroke="#000" stroke-width="1.9"/>
<rect x="92.05" y="313.04" width="13.1" height="79.56" fill="#d0d0d0" stroke="#000" stroke-width="1.9"/>
<rect x="105.15" y="272.79" width="12.9" height="119.81" fill="#fff" stroke="#000" stroke-width="1.9"/>
<rect x="135.90" y="344.40" width="13.1" height="48.20" fill="#d0d0d0" stroke="#000" stroke-width="1.9"/>
<rect x="149.00" y="301.34" width="12.9" height="91.26" fill="#fff" stroke="#000" stroke-width="1.9"/>
<rect x="179.75" y="369.90" width="13.1" height="22.70" fill="#d0d0d0" stroke="#000" stroke-width="1.9"/>
<rect x="192.85" y="349.08" width="12.9" height="43.52" fill="#fff" stroke="#000" stroke-width="1.9"/>
<line x1="38.50" y1="251.20" x2="38.50" y2="393.50" stroke="#000" stroke-width="1.9" />
<line x1="37.60" y1="392.60" x2="216.50" y2="392.60" stroke="#000" stroke-width="1.9" />
<text x="31.8" y="395.2" font-size="12" text-anchor="end" stroke="#000" stroke-width="0.68" >0</text>
<text x="32.3" y="374.6" font-size="12" text-anchor="end" stroke="#000" stroke-width="0.68" >50</text>
<text x="36.3" y="350.7" font-size="12" text-anchor="end" stroke="#000" stroke-width="0.68" >100</text>
<text x="36.3" y="327.6" font-size="12" text-anchor="end" stroke="#000" stroke-width="0.68" >150</text>
<text x="36.3" y="304.4" font-size="12" text-anchor="end" stroke="#000" stroke-width="0.68" >200</text>
<text x="36.3" y="280.5" font-size="12" text-anchor="end" stroke="#000" stroke-width="0.68" >250</text>
<line x1="36.70" y1="251.60" x2="38.50" y2="251.60" stroke="#000" stroke-width="1.2" />
<text x="36.3" y="256.6" font-size="12" text-anchor="end" stroke="#000" stroke-width="0.68" >300</text>
<line x1="82.90" y1="392.60" x2="82.90" y2="394.80" stroke="#000" stroke-width="1.0" />
<line x1="127.30" y1="392.60" x2="127.30" y2="394.80" stroke="#000" stroke-width="1.0" />
<line x1="171.70" y1="392.60" x2="171.70" y2="394.80" stroke="#000" stroke-width="1.0" />
<line x1="216.10" y1="392.60" x2="216.10" y2="394.80" stroke="#000" stroke-width="1.0" />
<text x="62.3" y="407.4" font-size="12" text-anchor="middle" stroke="#000" stroke-width="0.68" >0</text>
<text x="109.2" y="407.4" font-size="12" text-anchor="middle" stroke="#000" stroke-width="0.68" >10</text>
<text x="156.6" y="407.4" font-size="12" text-anchor="middle" stroke="#000" stroke-width="0.68" >100</text>
<text x="201.6" y="407.4" font-size="12" text-anchor="middle" stroke="#000" stroke-width="0.68" >1000</text>
<text x="101.5" y="423.2" font-size="12.3" text-anchor="start" stroke="#000" stroke-width="0.68"  textLength="69.5" lengthAdjust="spacingAndGlyphs">[IP-10] ng/ml</text>
<text transform="translate(9.5,327.2) rotate(-90)" font-size="11" text-anchor="start" stroke="#000" stroke-width="0.68" textLength="19" lengthAdjust="spacingAndGlyphs">MFI</text>
<rect x="133.2" y="253.6" width="4.6" height="4.6" fill="#d8d8d8" stroke="#000" stroke-width="1.8"/>
<rect x="133.7" y="267.6" width="4.2" height="4.4" fill="#f4f4f4" stroke="#000" stroke-width="1.7"/>
<text x="142" y="259.8" font-size="12.3" text-anchor="start" stroke="#000" stroke-width="0.68"  textLength="79.8" lengthAdjust="spacingAndGlyphs">Wildtype IP-10</text>
<text x="142.8" y="273.5" font-size="12.3" text-anchor="start" stroke="#000" stroke-width="0.68"  textLength="51.5" lengthAdjust="spacingAndGlyphs">Monomer</text>
</g>
<g id="panelD">
<rect x="265.20" y="378.55" width="8.05" height="16.65" fill="#d8d8d8" stroke="#000" stroke-width="2.4"/>
<rect x="273.25" y="378.55" width="8.05" height="16.65" fill="#fff" stroke="#000" stroke-width="2.4"/>
<rect x="281.30" y="378.55" width="8.05" height="16.65" fill="#000" stroke="#000" stroke-width="2.4"/>
<rect x="289.35" y="378.55" width="8.05" height="16.65" fill="#969696" stroke="#000" stroke-width="2.4"/>
<rect x="307.88" y="364.49" width="8.05" height="30.71" fill="#d8d8d8" stroke="#000" stroke-width="2.4"/>
<rect x="315.93" y="370.38" width="8.05" height="24.82" fill="#fff" stroke="#000" stroke-width="2.4"/>
<rect x="323.98" y="369.23" width="8.05" height="25.97" fill="#000" stroke="#000" stroke-width="2.4"/>
<rect x="332.03" y="377.73" width="8.05" height="17.47" fill="#969696" stroke="#000" stroke-width="2.4"/>
<line x1="311.90" y1="360.40" x2="311.90" y2="368.58" stroke="#000" stroke-width="1.7" />
<line x1="307.70" y1="360.40" x2="316.10" y2="360.40" stroke="#000" stroke-width="1.8" />
<rect x="350.56" y="338.17" width="8.05" height="57.03" fill="#d8d8d8" stroke="#000" stroke-width="2.4"/>
<rect x="358.61" y="367.10" width="8.05" height="28.10" fill="#fff" stroke="#000" stroke-width="2.4"/>
<rect x="366.66" y="363.83" width="8.05" height="31.37" fill="#000" stroke="#000" stroke-width="2.4"/>
<rect x="374.71" y="384.11" width="8.05" height="11.09" fill="#969696" stroke="#000" stroke-width="2.4"/>
<line x1="354.58" y1="322.80" x2="354.58" y2="353.53" stroke="#000" stroke-width="1.7" />
<line x1="350.38" y1="322.80" x2="358.78" y2="322.80" stroke="#000" stroke-width="1.8" />
<line x1="362.63" y1="363.67" x2="362.63" y2="367.10" stroke="#000" stroke-width="1.7" />
<line x1="358.44" y1="363.67" x2="366.83" y2="363.67" stroke="#000" stroke-width="1.8" />
<line x1="370.69" y1="361.22" x2="370.69" y2="363.83" stroke="#000" stroke-width="1.7" />
<line x1="366.49" y1="361.22" x2="374.88" y2="361.22" stroke="#000" stroke-width="1.8" />
<line x1="378.73" y1="380.19" x2="378.73" y2="384.11" stroke="#000" stroke-width="1.7" />
<line x1="374.53" y1="380.19" x2="382.93" y2="380.19" stroke="#000" stroke-width="1.8" />
<rect x="393.24" y="322.96" width="8.05" height="72.24" fill="#d8d8d8" stroke="#000" stroke-width="2.4"/>
<rect x="401.29" y="350.75" width="8.05" height="44.44" fill="#fff" stroke="#000" stroke-width="2.4"/>
<rect x="409.34" y="344.21" width="8.05" height="50.99" fill="#000" stroke="#000" stroke-width="2.4"/>
<rect x="417.39" y="384.11" width="8.05" height="11.09" fill="#969696" stroke="#000" stroke-width="2.4"/>
<line x1="397.26" y1="313.48" x2="397.26" y2="331.95" stroke="#000" stroke-width="1.7" />
<line x1="393.06" y1="313.48" x2="401.46" y2="313.48" stroke="#000" stroke-width="1.8" />
<line x1="405.31" y1="346.99" x2="405.31" y2="355.17" stroke="#000" stroke-width="1.7" />
<line x1="401.12" y1="346.99" x2="409.51" y2="346.99" stroke="#000" stroke-width="1.8" />
<line x1="401.31" y1="355.17" x2="409.31" y2="355.17" stroke="#000" stroke-width="1.5" />
<line x1="413.37" y1="340.94" x2="413.37" y2="344.21" stroke="#000" stroke-width="1.7" />
<line x1="409.17" y1="340.94" x2="417.56" y2="340.94" stroke="#000" stroke-width="1.8" />
<line x1="421.41" y1="379.69" x2="421.41" y2="388.20" stroke="#000" stroke-width="1.7" />
<line x1="417.21" y1="379.69" x2="425.61" y2="379.69" stroke="#000" stroke-width="1.8" />
<line x1="417.41" y1="388.20" x2="425.41" y2="388.20" stroke="#000" stroke-width="1.5" />
<rect x="435.92" y="281.59" width="8.05" height="113.61" fill="#d8d8d8" stroke="#000" stroke-width="2.4"/>
<rect x="443.97" y="307.59" width="8.05" height="87.61" fill="#fff" stroke="#000" stroke-width="2.4"/>
<rect x="452.02" y="326.56" width="8.05" height="68.64" fill="#000" stroke="#000" stroke-width="2.4"/>
<rect x="460.07" y="384.11" width="8.05" height="11.09" fill="#969696" stroke="#000" stroke-width="2.4"/>
<line x1="439.94" y1="269.66" x2="439.94" y2="293.37" stroke="#000" stroke-width="1.7" />
<line x1="435.74" y1="269.66" x2="444.14" y2="269.66" stroke="#000" stroke-width="1.8" />
<line x1="447.99" y1="303.50" x2="447.99" y2="311.19" stroke="#000" stroke-width="1.7" />
<line x1="443.79" y1="303.50" x2="452.19" y2="303.50" stroke="#000" stroke-width="1.8" />
<line x1="443.99" y1="311.19" x2="451.99" y2="311.19" stroke="#000" stroke-width="1.5" />
<line x1="456.04" y1="313.15" x2="456.04" y2="326.56" stroke="#000" stroke-width="1.7" />
<line x1="451.84" y1="313.15" x2="460.24" y2="313.15" stroke="#000" stroke-width="1.8" />
<rect x="478.60" y="306.28" width="8.05" height="88.92" fill="#d8d8d8" stroke="#000" stroke-width="2.4"/>
<rect x="486.65" y="260.50" width="8.05" height="134.70" fill="#fff" stroke="#000" stroke-width="2.4"/>
<rect x="494.70" y="321.98" width="8.05" height="73.22" fill="#000" stroke="#000" stroke-width="2.4"/>
<rect x="502.75" y="379.20" width="8.05" height="16.00" fill="#969696" stroke="#000" stroke-width="2.4"/>
<line x1="482.62" y1="302.20" x2="482.62" y2="311.19" stroke="#000" stroke-width="1.7" />
<line x1="478.43" y1="302.20" x2="486.82" y2="302.20" stroke="#000" stroke-width="1.8" />
<line x1="498.73" y1="308.08" x2="498.73" y2="321.98" stroke="#000" stroke-width="1.7" />
<line x1="494.53" y1="308.08" x2="502.93" y2="308.08" stroke="#000" stroke-width="1.8" />
<rect x="486.6" y="257.2" width="8.1" height="4.6" fill="#000"/>
<rect x="460.3" y="379.2" width="8.9" height="5.2" fill="#000"/>
<rect x="502.9" y="374.4" width="8.9" height="5.2" fill="#000"/>
<line x1="261.00" y1="249.20" x2="261.00" y2="395.80" stroke="#000" stroke-width="1.9" />
<line x1="260.10" y1="395.20" x2="517.30" y2="395.20" stroke="#000" stroke-width="1.9" />
<line x1="258.00" y1="395.00" x2="261.00" y2="395.00" stroke="#000" stroke-width="1.2" />
<line x1="258.00" y1="378.90" x2="261.00" y2="378.90" stroke="#000" stroke-width="1.2" />
<line x1="258.00" y1="362.80" x2="261.00" y2="362.80" stroke="#000" stroke-width="1.2" />
<line x1="258.00" y1="346.70" x2="261.00" y2="346.70" stroke="#000" stroke-width="1.2" />
<line x1="258.00" y1="330.60" x2="261.00" y2="330.60" stroke="#000" stroke-width="1.2" />
<line x1="258.00" y1="314.50" x2="261.00" y2="314.50" stroke="#000" stroke-width="1.2" />
<line x1="258.00" y1="298.40" x2="261.00" y2="298.40" stroke="#000" stroke-width="1.2" />
<line x1="258.00" y1="282.30" x2="261.00" y2="282.30" stroke="#000" stroke-width="1.2" />
<line x1="258.00" y1="266.20" x2="261.00" y2="266.20" stroke="#000" stroke-width="1.2" />
<line x1="258.00" y1="250.10" x2="261.00" y2="250.10" stroke="#000" stroke-width="1.2" />
<text x="255.4" y="399.1" font-size="12" text-anchor="end" stroke="#000" stroke-width="0.68" >0</text>
<text x="255.4" y="366.90000000000003" font-size="12" text-anchor="end" stroke="#000" stroke-width="0.68" >2</text>
<text x="255.4" y="334.70000000000005" font-size="12" text-anchor="end" stroke="#000" stroke-width="0.68" >4</text>
<text x="255.4" y="302.5" font-size="12" text-anchor="end" stroke="#000" stroke-width="0.68" >6</text>
<text x="255.4" y="270.3" font-size="12" text-anchor="end" stroke="#000" stroke-width="0.68" >8</text>
<line x1="303.60" y1="395.20" x2="303.60" y2="397.60" stroke="#000" stroke-width="1.0" />
<line x1="346.20" y1="395.20" x2="346.20" y2="397.60" stroke="#000" stroke-width="1.0" />
<line x1="388.80" y1="395.20" x2="388.80" y2="397.60" stroke="#000" stroke-width="1.0" />
<line x1="431.40" y1="395.20" x2="431.40" y2="397.60" stroke="#000" stroke-width="1.0" />
<line x1="474.00" y1="395.20" x2="474.00" y2="397.60" stroke="#000" stroke-width="1.0" />
<line x1="516.60" y1="395.20" x2="516.60" y2="397.60" stroke="#000" stroke-width="1.0" />
<text x="282.9" y="411.3" font-size="12" text-anchor="middle" stroke="#000" stroke-width="0.68" >0</text>
<text x="325" y="411.3" font-size="12" text-anchor="middle" stroke="#000" stroke-width="0.68" >1</text>
<text x="369" y="411.3" font-size="12" text-anchor="middle" stroke="#000" stroke-width="0.68" >10</text>
<text x="412.9" y="411.3" font-size="12" text-anchor="middle" stroke="#000" stroke-width="0.68" >100</text>
<text x="456.7" y="411.3" font-size="12" text-anchor="middle" stroke="#000" stroke-width="0.68" >1000</text>
<text x="498.3" y="411.3" font-size="12" text-anchor="middle" stroke="#000" stroke-width="0.68" >10000</text>
<text x="357.4" y="426" font-size="12" text-anchor="start" stroke="#000" stroke-width="0.68"  textLength="66.4" lengthAdjust="spacingAndGlyphs">[IP-10] ng/ml</text>
<text transform="translate(241.2,372.4) rotate(-90)" font-size="12.4" text-anchor="start" stroke="#000" stroke-width="0.55" textLength="105.8" lengthAdjust="spacingAndGlyphs">Chemotactic index</text>
<rect x="265.4" y="251.6" width="5.2" height="5.2" fill="#f0f0f0" stroke="#000" stroke-width="1.7"/>
<rect x="265.4" y="266.2" width="5.2" height="5.2" fill="#fff" stroke="#000" stroke-width="1.7"/>
<rect x="264.8" y="280.4" width="6.6" height="6.6" fill="#000"/>
<rect x="267.0" y="295.4" width="4.8" height="4.8" fill="#a0a0a0" stroke="#4a4a4a" stroke-width="1.7"/>
<text x="277.6" y="257.2" font-size="12.3" text-anchor="start" stroke="#000" stroke-width="0.68"  textLength="79.5" lengthAdjust="spacingAndGlyphs">Wildtype IP-10</text>
<text x="278" y="272.2" font-size="12.3" text-anchor="start" stroke="#000" stroke-width="0.68"  textLength="54" lengthAdjust="spacingAndGlyphs">Monomer</text>
<text x="277.8" y="287.2" font-size="12" text-anchor="start" stroke="#000" stroke-width="0.45"  textLength="28.6" lengthAdjust="spacingAndGlyphs">R22E</text>
<text x="280.2" y="301.7" font-size="12" text-anchor="start" stroke="#000" stroke-width="0.45"  textLength="23.4" lengthAdjust="spacingAndGlyphs">R8A</text>
</g>
</g>
</svg></body></html>
